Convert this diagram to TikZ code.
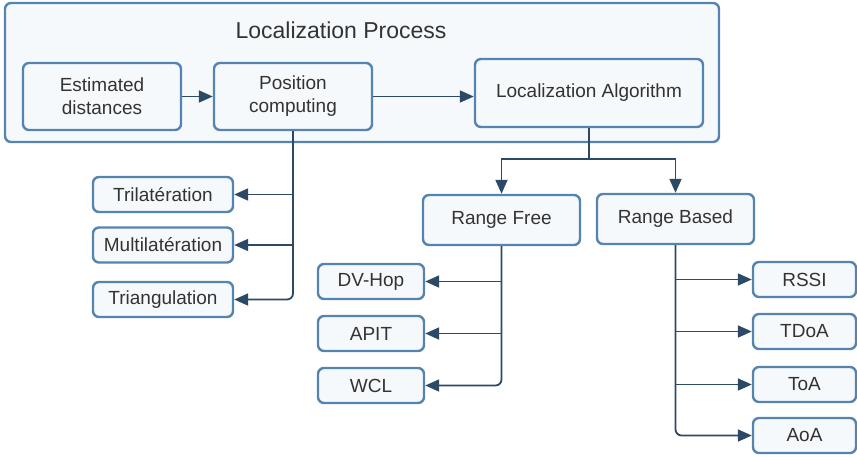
\documentclass[tikz,border=0pt]{standalone}
\usepackage{fontspec}
\setmainfont{Liberation Sans}
\usepackage{xcolor}
\usetikzlibrary{arrows.meta,positioning,calc}
\definecolor{ink}{HTML}{333333}
\definecolor{edgeblue}{HTML}{5584B0}
\definecolor{wirenavy}{HTML}{2C4A66}
\definecolor{paperblue}{HTML}{F6F9FB}
\tikzset{
  frame/.style={rectangle, rounded corners=3pt, draw=edgeblue, line width=1.2pt, fill=paperblue, minimum width=357pt, minimum height=69.5pt},
  box/.style={rectangle, rounded corners=3pt, draw=edgeblue, line width=1.2pt, fill=paperblue, text=ink, align=center, font=\fontsize{9.5}{11.5}\selectfont, inner sep=1pt},
  bigbox/.style={box, minimum width=79pt, minimum height=33.5pt},
  leaf/.style={box, minimum height=17.5pt},
  arrow/.style={-{Triangle[length=7pt, width=6pt]}, draw=wirenavy, line width=0.9pt},
  wire/.style={draw=wirenavy, line width=0.9pt}
}
\begin{document}
\begin{tikzpicture}[x=0.5pt, y=-0.5pt]
  \useasboundingbox (0,0) rectangle (857,456);
  \node[frame] (proc) at (362,72.5) {};
  \node[text=ink, font=\fontsize{11.5}{13}\selectfont] (title) at (341,30) {Localization Process};
  \node[bigbox] (est) at (102,96.5) {Estimated\\distances};
  \node[bigbox] (pos) at (293,96.5) {Position\\computing};
  \node[box, minimum width=114pt, minimum height=34pt] (alg) at (589,93) {Localization Algorithm};
  \node[leaf, minimum width=70pt] (trila) at (163,194.5) {Trilatération};
  \node[leaf, minimum width=70pt] (multi) at (163,245) {Multilatération};
  \node[leaf, minimum width=70pt] (trian) at (163,299.5) {Triangulation};
  \node[box, minimum width=78.5pt, minimum height=25pt] (rfree) at (501.5,220) {Range Free};
  \node[box, minimum width=78.5pt, minimum height=25pt] (rbased) at (675.5,219) {Range Based};
  \node[leaf, minimum width=53pt] (dvhop) at (371,281.5) {DV-Hop};
  \node[leaf, minimum width=53pt] (apit) at (371,333.5) {APIT};
  \node[leaf, minimum width=53pt] (wcl) at (371,385.5) {WCL};
  \node[leaf, minimum width=51.5pt] (rssi) at (804.5,279.5) {RSSI};
  \node[leaf, minimum width=51.5pt] (tdoa) at (804.5,331.5) {TDoA};
  \node[leaf, minimum width=51.5pt] (toa) at (804.5,384.5) {ToA};
  \node[leaf, minimum width=51.5pt] (aoa) at (804.5,435.5) {AoA};
  \coordinate (split) at (589,159);
  \draw[arrow] (est) -- (pos);
  \draw[arrow] (pos) -- (pos -| alg.west);
  \draw[arrow, rounded corners=3pt] (pos.south) |- (trian);
  \draw[arrow] (pos.south |- trila) -- (trila);
  \draw[arrow] (pos.south |- multi) -- (multi);
  \draw[wire] (alg) -- (split);
  \draw[arrow] (split) -| (rfree);
  \draw[arrow] (split) -| (rbased);
  \draw[arrow, rounded corners=3pt] (rfree.south) |- (wcl);
  \draw[arrow] (rfree.south |- dvhop) -- (dvhop);
  \draw[arrow] (rfree.south |- apit) -- (apit);
  \draw[arrow, rounded corners=3pt] (rbased.south) |- (aoa);
  \draw[arrow] (rbased.south |- rssi) -- (rssi);
  \draw[arrow] (rbased.south |- tdoa) -- (tdoa);
  \draw[arrow] (rbased.south |- toa) -- (toa);
\end{tikzpicture}
\end{document}
